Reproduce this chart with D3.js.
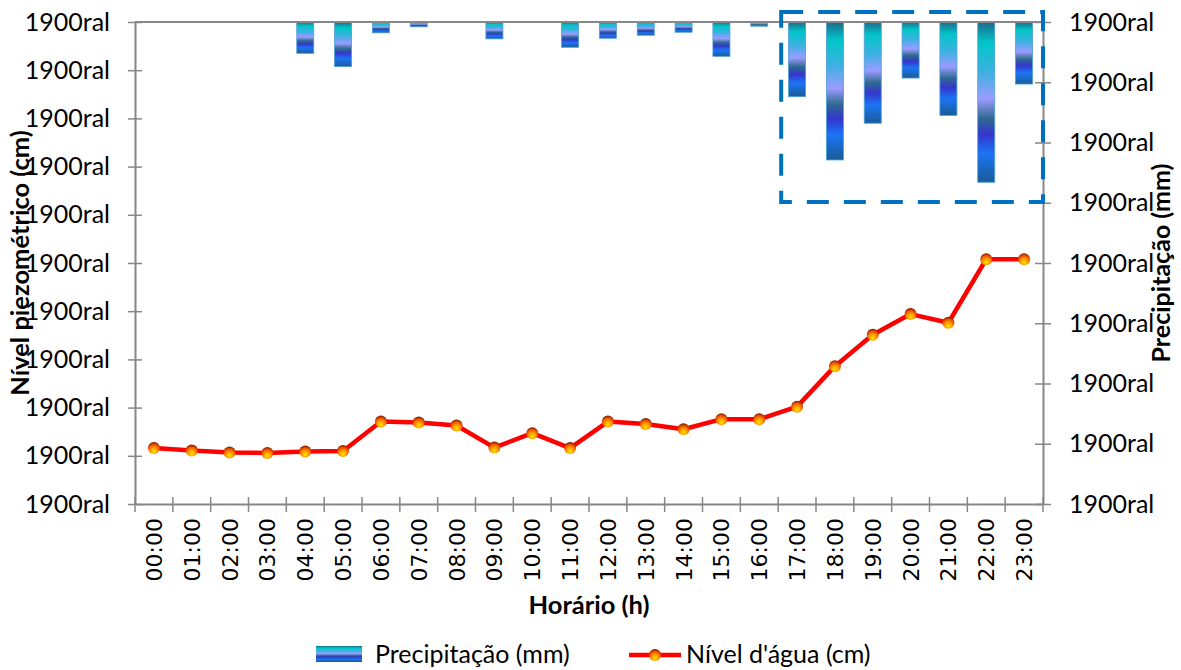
<!DOCTYPE html>
<html>
<head>
<meta charset="utf-8">
<script src="https://cdn.jsdelivr.net/npm/d3@7"></script>
<style>
  body { margin: 0; background: #fff; }
  svg { display: block; }
</style>
</head>
<body>
<script>
// data
var hours = ["00:00","01:00","02:00","03:00","04:00","05:00","06:00","07:00","08:00","09:00","10:00","11:00",
             "12:00","13:00","14:00","15:00","16:00","17:00","18:00","19:00","20:00","21:00","22:00","23:00"];
var precip = [0, 0, 0, 0, 0.52, 0.74, 0.18, 0.08, 0, 0.28, 0, 0.42,
              0.27, 0.22, 0.17, 0.57, 0.07, 1.24, 2.29, 1.68, 0.93, 1.55, 2.66, 1.03];
var level = [11.6, 11.1, 10.7, 10.6, 10.9, 11.0, 17.1, 16.9, 16.3, 11.7, 14.7, 11.6,
             17.1, 16.6, 15.5, 17.6, 17.6, 20.2, 28.6, 35.1, 39.4, 37.6, 50.8, 50.8];
var levelTicks = [0,10,20,30,40,50,60,70,80,90,100];
var precipTicks = [0,1,2,3,4,5,6,7,8];
var tickLabel = "1900ral";

//Margins
var margin = {top: 22, right: 138, bottom: 166, left: 135},
    W = 1181, H = 670,
    width = W - margin.left - margin.right,
    height = H - margin.top - margin.bottom;

var calibri = "Lato, 'Open Sans', sans-serif";
var axisGray = "#878787";

var svg = d3.select("body").append("svg")
    .attr("width", W)
    .attr("height", H);

var defs = svg.append("defs");

// bar fill, same stripes as the original picture fill
var barStops = [[0,"#1d6a8a"],[0.13,"#00c6c8"],[0.32,"#3fb0e2"],[0.48,"#9b9cff"],[0.6,"#2e6a90"],
                [0.7,"#3535cc"],[0.82,"#1b74f4"],[1,"#1a5c98"]];
var bg = defs.append("linearGradient").attr("id","barGrad")
    .attr("x1",0).attr("y1",0).attr("x2",0).attr("y2",1);
barStops.forEach(function(s){ bg.append("stop").attr("offset",s[0]).attr("stop-color",s[1]); });

// marker ball
var mg = defs.append("radialGradient").attr("id","ball")
    .attr("cx","50%").attr("cy","68%").attr("r","72%").attr("fx","50%").attr("fy","78%");
[[0,"#ffe600"],[0.4,"#ff9a00"],[0.72,"#e84a00"],[1,"#5a0800"]].forEach(function(s){
    mg.append("stop").attr("offset",s[0]).attr("stop-color",s[1]);
});

// scales
var x = d3.scaleBand().domain(hours).range([margin.left, margin.left + width]);
var yL = d3.scaleLinear().domain([0,100]).range([margin.top + height, margin.top]);
var yR = d3.scaleLinear().domain([0,8]).range([margin.top, margin.top + height]);   // reversed
var barW = x.bandwidth() * 0.45;

// bars hanging from the top
svg.append("g").selectAll("rect")
    .data(precip.map(function(v,i){ return {h: hours[i], v: v}; }).filter(function(d){ return d.v > 0; }))
    .enter().append("rect")
    .attr("x", function(d){ return x(d.h) + (x.bandwidth() - barW)/2; })
    .attr("y", yR(0))
    .attr("width", barW)
    .attr("height", function(d){ return yR(d.v) - yR(0); })
    .attr("fill", "url(#barGrad)")
    .attr("stroke", "#4f9fd6")
    .attr("stroke-width", 0.8);

// top category line (secondary axis)
svg.append("line")
    .attr("x1", margin.left).attr("x2", margin.left + width)
    .attr("y1", yR(0)).attr("y2", yR(0))
    .attr("stroke", axisGray).attr("stroke-width", 2);

// left axis
var gL = svg.append("g")
    .attr("transform", "translate(" + margin.left + ",0)")
    .call(d3.axisLeft(yL).tickValues(levelTicks).tickSize(0).tickPadding(25).tickFormat(function(){ return tickLabel; }));
gL.select(".domain").attr("stroke", axisGray).attr("stroke-width", 2);
gL.selectAll(".tick").append("line").attr("x1",-7).attr("x2",7).attr("stroke",axisGray).attr("stroke-width",1.5);
gL.selectAll("text").style("font-family", calibri).style("font-size","25px").attr("fill","#000");

// right axis
var gR = svg.append("g")
    .attr("transform", "translate(" + (margin.left + width) + ",0)")
    .call(d3.axisRight(yR).tickValues(precipTicks).tickSize(0).tickPadding(26).tickFormat(function(){ return tickLabel; }));
gR.select(".domain").attr("stroke", axisGray).attr("stroke-width", 2);
gR.selectAll(".tick").append("line").attr("x1",-8).attr("x2",8).attr("stroke",axisGray).attr("stroke-width",1.5);
gR.selectAll("text").style("font-family", calibri).style("font-size","25px").attr("fill","#000");

// bottom axis
var gB = svg.append("g")
    .attr("transform", "translate(0," + (margin.top + height) + ")")
    .call(d3.axisBottom(x).tickSize(0).tickPadding(0));
gB.select(".domain").attr("stroke", axisGray).attr("stroke-width", 2);
gB.selectAll("text")
    .attr("transform", "rotate(-90)")
    .attr("x", -14).attr("y", 0).attr("dy", "0.36em")
    .style("text-anchor", "end")
    .style("font-family", "'DejaVu Sans', sans-serif").style("font-size","22px").attr("fill","#000");
// category boundary ticks
svg.append("g").selectAll("line")
    .data(hours.concat(["end"]))
    .enter().append("line")
    .attr("x1", function(d,i){ return margin.left + i * x.step(); })
    .attr("x2", function(d,i){ return margin.left + i * x.step(); })
    .attr("y1", margin.top + height - 7).attr("y2", margin.top + height + 8)
    .attr("stroke", axisGray).attr("stroke-width", 1.5);

// water level line
var line = d3.line()
    .x(function(d,i){ return x(hours[i]) + x.bandwidth()/2; })
    .y(function(d){ return yL(d); });
svg.append("path").datum(level)
    .attr("d", line)
    .attr("fill","none").attr("stroke","#ff0000").attr("stroke-width",4.5)
    .attr("stroke-linejoin","round");
svg.append("g").selectAll("circle")
    .data(level).enter().append("circle")
    .attr("cx", function(d,i){ return x(hours[i]) + x.bandwidth()/2; })
    .attr("cy", function(d){ return yL(d); })
    .attr("r", 6)
    .attr("fill", "url(#ball)");

// dashed highlight box round 17:00 - 23:00
var bx0 = x("17:00") + 3, bx1 = margin.left + width, by0 = margin.top - 10, by1 = 202;
svg.append("rect")
    .attr("x", bx0).attr("y", by0)
    .attr("width", bx1 - bx0).attr("height", by1 - by0)
    .attr("fill","none").attr("stroke","#0070c0").attr("stroke-width",4)
    .attr("stroke-dasharray","22,15");

// axis titles
svg.append("text")
    .attr("transform","translate(29," + (margin.top + height/2) + ") rotate(-90)")
    .attr("text-anchor","middle")
    .style("font-family", calibri).style("font-weight","bold").style("font-size","25.5px")
    .text("Nível piezométrico (cm)");
svg.append("text")
    .attr("transform","translate(1170," + (margin.top + height/2) + ") rotate(-90)")
    .attr("text-anchor","middle")
    .style("font-family", calibri).style("font-weight","bold").style("font-size","25px")
    .text("Precipitação (mm)");
svg.append("text")
    .attr("x", margin.left + width/2).attr("y", 614)
    .attr("text-anchor","middle")
    .style("font-family", calibri).style("font-weight","bold").style("font-size","25.5px")
    .text("Horário (h)");

// legend
var leg = svg.append("g");
leg.append("rect").attr("x",316).attr("y",646).attr("width",46).attr("height",16).attr("fill","url(#barGrad)");
leg.append("text").attr("x",375).attr("y",663)
    .style("font-family", calibri).style("font-size","25px").text("Precipitação (mm)");
leg.append("line").attr("x1",629).attr("x2",681).attr("y1",655).attr("y2",655)
    .attr("stroke","#ff0000").attr("stroke-width",4.5);
leg.append("circle").attr("cx",655).attr("cy",655).attr("r",6).attr("fill","url(#ball)");
leg.append("text").attr("x",686).attr("y",663)
    .style("font-family", calibri).style("font-size","25px").text("Nível d'água (cm)");
</script>
</body>
</html>
